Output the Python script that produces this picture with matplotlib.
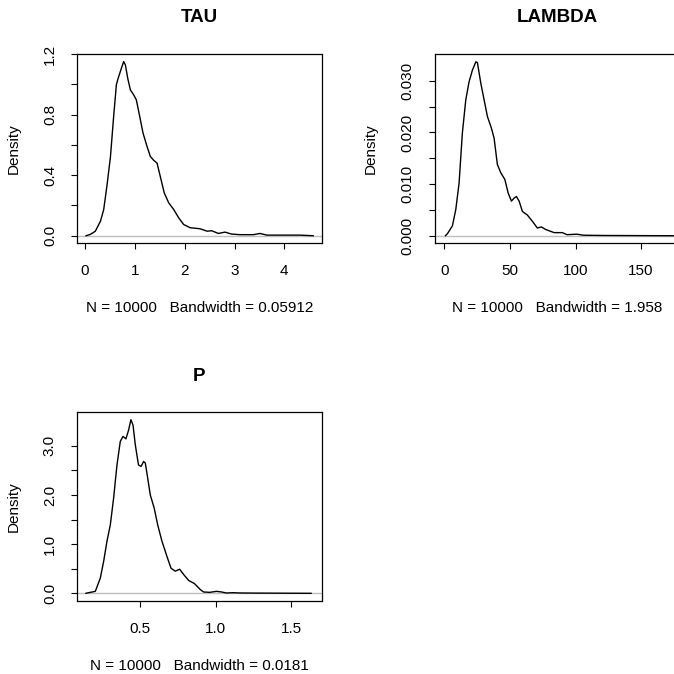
import matplotlib
matplotlib.use("Agg")
import matplotlib.pyplot as plt
from matplotlib.transforms import offset_copy

plt.rcParams['font.family'] = ['Liberation Sans', 'DejaVu Sans']

# density curves
tauX = [0.02, 0.107, 0.207, 0.31, 0.375, 0.44, 0.51, 0.575, 0.63, 0.675, 0.73, 0.776,
        0.81, 0.857, 0.91, 0.977, 1.03, 1.098, 1.164, 1.244, 1.31, 1.378, 1.445, 1.51,
        1.59, 1.68, 1.78, 1.88, 1.98, 2.11, 2.31, 2.45, 2.54, 2.68, 2.81, 2.94, 3.11,
        3.38, 3.51, 3.65, 4.31, 4.58]
tauY = [0.0, 0.009, 0.03, 0.096, 0.173, 0.33, 0.52, 0.79, 1.0, 1.05, 1.106, 1.15,
        1.128, 1.04, 0.963, 0.93, 0.897, 0.787, 0.678, 0.59, 0.524, 0.498, 0.48, 0.392,
        0.283, 0.217, 0.173, 0.118, 0.074, 0.053, 0.046, 0.03, 0.033, 0.015, 0.024, 0.011, 0.007,
        0.007, 0.015, 0.004, 0.004, 0.0]

lamX = [0.8, 2.3, 6.1, 8.7, 11.2, 13.7, 16.3, 18.8, 21.4, 24.0, 25.2, 27.8, 30.3, 32.8,
        35.9, 37.9, 40.4, 43.0, 46.1, 48.6, 51.1, 53.2, 54.9, 57.0, 59.5, 63.3, 67.1,
        70.9, 74.0, 77.3, 83.7, 90.0, 93.5, 101.0, 106.0, 121.5, 172.0, 180.0]
lamY = [0.0, 0.0004, 0.0019, 0.0051, 0.0102, 0.0199, 0.0263, 0.0298, 0.0321, 0.0337,
        0.0335, 0.0295, 0.0263, 0.0231, 0.0208, 0.0189, 0.0138, 0.0122, 0.0109, 0.0083,
        0.0067, 0.0073, 0.0076, 0.0067, 0.0047, 0.004, 0.0028, 0.0015, 0.0017, 0.0012,
        0.0006, 0.0006, 0.0002, 0.0003, 0.0001, 0.00005, 0.0, 0.0]

pX = [0.143, 0.15, 0.205, 0.238, 0.26, 0.282, 0.304, 0.326, 0.348, 0.37, 0.388, 0.407,
      0.425, 0.44, 0.454, 0.469, 0.49, 0.507, 0.524, 0.535, 0.551, 0.568, 0.594, 0.617,
      0.645, 0.678, 0.705, 0.733, 0.762, 0.789, 0.822, 0.859, 0.899, 0.92, 0.96, 1.005,
      1.04, 1.07, 1.117, 1.16, 1.25, 1.63]
pY = [0.0, 0.006, 0.04, 0.31, 0.65, 1.06, 1.39, 1.94, 2.61, 3.09, 3.19, 3.14,
      3.32, 3.53, 3.42, 3.02, 2.61, 2.58, 2.68, 2.65, 2.34, 2.0, 1.73, 1.39,
      1.06, 0.75, 0.51, 0.45, 0.49, 0.38, 0.26, 0.2, 0.074, 0.027, 0.02, 0.04,
      0.027, 0.007, 0.013, 0.007, 0.005, 0.0]

titles = ["TAU", "LAMBDA", "P"]
bandwidths = ["0.05912", "1.958", "0.0181"]
xticksList = [[0, 1, 2, 3, 4], [0, 50, 100, 150], [0.5, 1.0, 1.5]]
xtickLabels = [["0", "1", "2", "3", "4"], ["0", "50", "100", "150"], ["0.5", "1.0", "1.5"]]
yticksList = [[0.0, 0.2, 0.4, 0.6, 0.8, 1.0, 1.2],
              [0.000, 0.005, 0.010, 0.015, 0.020, 0.025, 0.030],
              [0.0, 0.5, 1.0, 1.5, 2.0, 2.5, 3.0]]
ytickLabels = [["0.0", "", "0.4", "", "0.8", "", "1.2"],
               ["0.000", "", "0.010", "", "0.020", "", "0.030"],
               ["0.0", "", "1.0", "", "2.0", "", "3.0"]]
xlims = [(-0.155, 4.75), (-7.4, 179.0), (0.086, 1.70)]
ylims = [(-0.046, 1.2), (-0.00135, 0.0352), (-0.156, 3.68)]

fig = plt.figure(figsize=(6.74, 6.74), dpi=100)
W = 674.0
# plot boxes in pixels: left, top
boxes = [(77.3, 54.0), (434.7, 54.0), (77.3, 412.3)]
bw, bh = 244.4, 188.7
curves = [(tauX, tauY), (lamX, lamY), (pX, pY)]

for i in range(3):
    left, top = boxes[i]
    ax = fig.add_axes([left / W, (W - top - bh) / W, bw / W, bh / W])
    x, y = curves[i]
    ax.axhline(0, color="#BEBEBE", lw=1.0)
    ax.plot(x, y, color="black", lw=1.0)
    ax.set_xlim(*xlims[i])
    ax.set_ylim(*ylims[i])
    ax.set_xticks(xticksList[i])
    ax.set_xticklabels(xtickLabels[i])
    ax.set_yticks(yticksList[i])
    ax.set_yticklabels(ytickLabels[i])
    plt.setp(ax.get_yticklabels(), rotation=90, va="center")
    ax.tick_params(direction="out", length=4.2, width=0.8, labelsize=11, pad=11)
    ax.tick_params(axis="y", pad=10.5)
    for s in ax.spines.values():
        s.set_linewidth(0.9)
    ax.text(0.5, 1.0, titles[i], transform=offset_copy(ax.transAxes, fig=fig, y=36, units="dots"),
            ha="center", va="center", fontsize=13.5, fontweight="bold")
    ax.text(0.5, 0.0, "N = 10000   Bandwidth = " + bandwidths[i],
            transform=offset_copy(ax.transAxes, fig=fig, y=-65, units="dots"),
            ha="center", va="center", fontsize=11)
    ax.text(0.0, 0.5, "Density", transform=offset_copy(ax.transAxes, fig=fig, x=-64, units="dots"),
            ha="center", va="center", rotation=90, fontsize=11)

fig.savefig("out.png", dpi=100)
